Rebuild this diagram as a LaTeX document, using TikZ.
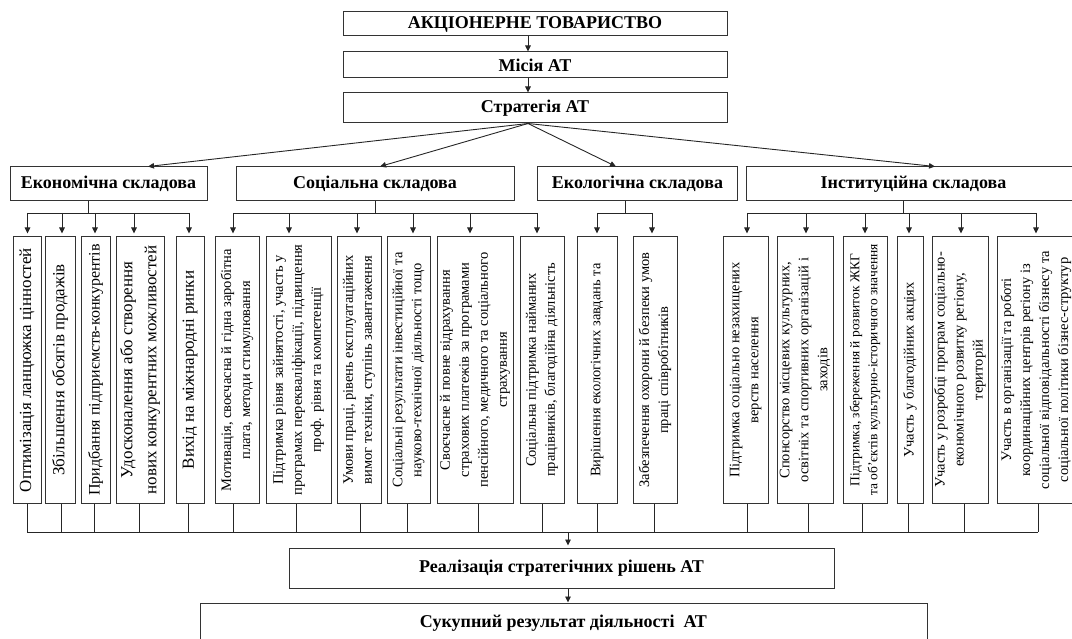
\documentclass[tikz,border=0pt]{standalone}
\usepackage{fontspec}
\setmainfont{Liberation Serif}
\usetikzlibrary{arrows.meta}
\begin{document}
\begin{tikzpicture}[x=1pt,y=-1pt,
  box/.style={draw=black!80, line width=1pt, inner sep=0pt, font=\fontsize{18}{20}\selectfont\bfseries},
  vbox/.style={draw=black!80, line width=1pt, inner sep=0pt, rotate=90, align=center, minimum width=266pt, font=\fontsize{14.5}{19}\selectfont},
  ebox/.style={vbox, font=\fontsize{17}{24}\selectfont},
  conn/.style={draw=black!85, line width=0.9pt},
  arr/.style={conn, -{Triangle[length=6pt,width=5.5pt]}},
]
\useasboundingbox (0,0) rectangle (1072,639);

% top chain
\node[box, minimum width=384pt, minimum height=24pt] (top) at (535,24) {АКЦІОНЕРНЕ ТОВАРИСТВО};
\node[box, minimum width=384pt, minimum height=26pt] (mis) at (535,65) {Місія АТ};
\node[box, minimum width=384pt, minimum height=30pt] (str) at (535,108) {Стратегія АТ};

% categories
\node[box, minimum width=197pt, minimum height=34pt] (econ) at (108.5,184) {Економічна складова};
\node[box, minimum width=278pt, minimum height=34pt] (soc) at (375,184) {Соціальна складова};
\node[box, minimum width=200pt, minimum height=34pt] (eco) at (637.5,184) {Екологічна складова};
\node[box, minimum width=335pt, minimum height=34pt] (inst) at (913.5,184) {Інституційна складова};

% economic boxes
\node[ebox, minimum height=28pt] (e1) at (27,370) {Оптимізація ланцюжка цінностей};
\node[ebox, minimum height=30pt] (e2) at (60,370) {Збільшення обсягів продажів};
\node[ebox, minimum height=29pt, font=\fontsize{16}{24}\selectfont] (e3) at (95.5,370) {Придбання підприємств-конкурентів};
\node[ebox, minimum height=48pt] (e4) at (140,370) {Удосконалення або створення\\нових конкурентних можливостей};
\node[ebox, minimum height=28pt] (e5) at (190,370) {Вихід на міжнародні ринки};

% social boxes
\node[vbox, minimum height=44pt] (s1) at (237,370) {Мотивація, своєчасна й гідна заробітна\\плата, методи стимулювання};
\node[vbox, minimum height=65pt] (s2) at (298.5,370) {Підтримка рівня зайнятості, участь у\\програмах перекваліфікації, підвищення\\проф. рівня та компетенції};
\node[vbox, minimum height=44pt] (s3) at (359,370) {Умови праці, рівень експлуатаційних\\вимог техніки, ступінь завантаження};
\node[vbox, minimum height=43pt] (s4) at (408.5,370) {Соціальні результати інвестиційної та\\науково-технічної діяльності тощо};
\node[vbox, minimum height=76pt] (s5) at (475,370) {Своєчасне й повне відрахування\\страхових платежів за програмами\\пенсійного, медичного та соціального\\страхування};
\node[vbox, minimum height=44pt] (s6) at (542,370) {Соціальна підтримка найманих\\працівників, благодійна діяльність};

% ecological boxes
\node[vbox, minimum height=40pt] (ec1) at (597,370) {Вирішення екологічних завдань та};
\node[vbox, minimum height=44pt] (ec2) at (655,370) {Забезпечення охорони й безпеки умов\\праці співробітників};

% institutional boxes
\node[vbox, minimum height=45pt] (i1) at (745.5,370) {Підтримка соціально незахищених\\верств населення};
\node[vbox, minimum height=56pt] (i2) at (805,370) {Спонсорство місцевих культурних,\\освітніх та спортивних організацій і\\заходів};
\node[vbox, minimum height=44pt, font=\fontsize{13.5}{18}\selectfont] (i3) at (865,370) {Підтримка, збереження й розвиток ЖКГ\\та об'єктів культурно-історичного значення};
\node[vbox, minimum height=26pt] (i4) at (910,370) {Участь у благодійних акціях};
\node[vbox, minimum height=56pt] (i5) at (960,370) {Участь у розробці програм соціально-\\економічного розвитку регіону,\\територій};
\node[vbox, minimum height=78pt] (i6) at (1036,370) {Участь в організації та роботі\\координаційних центрів регіону із\\соціальної відповідальності бізнесу та\\соціальної політики бізнес-структур};

% bottom boxes
\node[box, minimum width=545pt, minimum height=40pt] (real) at (561.5,568) {Реалізація стратегічних рішень АТ};
\node[box, minimum width=727pt, minimum height=40pt] (sum) at (563.5,623) {Сукупний результат діяльності\ \ АТ};

% top chain arrows
\draw[arr] (top.south -| 528,0) -- (mis.north -| 528,0);
\draw[arr] (mis.south -| 528,0) -- (str.north -| 528,0);
\coordinate (sb) at (str.south -| 528,0);
\draw[arr] (sb) -- (econ.north -| 148,0);
\draw[arr] (sb) -- (soc.north -| 380,0);
\draw[arr] (sb) -- (eco.north -| 616,0);
\draw[arr] (sb) -- (inst.north -| 935,0);

% distribution buses (rotated boxes: east = top edge, west = bottom edge)
\draw[conn] (econ.south -| 88,0) -- (88,213);
\draw[conn] (27.5,213) -- (189,213);
\foreach \n/\x in {e1/27.5,e2/62,e3/95,e4/134,e5/189}
  \draw[arr, shorten >=3pt] (\x,213) -- (\x,0 |- \n.east);

\draw[conn] (soc.south -| 375,0) -- (375,213);
\draw[conn] (233,213) -- (537,213);
\foreach \n/\x in {s1/233,s2/289,s3/357,s4/413,s5/470,s6/537}
  \draw[arr, shorten >=3pt] (\x,213) -- (\x,0 |- \n.east);

\draw[conn] (eco.south -| 625,0) -- (625,213);
\draw[conn] (597,213) -- (652,213);
\foreach \n/\x in {ec1/597,ec2/652}
  \draw[arr, shorten >=3pt] (\x,213) -- (\x,0 |- \n.east);

\draw[conn] (inst.south -| 903,0) -- (903,213);
\draw[conn] (747,213) -- (1036,213);
\foreach \n/\x in {i1/747,i2/806,i3/865,i4/909,i5/961,i6/1036}
  \draw[arr, shorten >=3pt] (\x,213) -- (\x,0 |- \n.east);

% collection bus
\foreach \n/\x in {e1/27,e2/61,e3/94,e4/139,e5/188,s1/233,s2/296,s3/360,s4/407,s5/478,s6/542,ec1/597,ec2/654,i1/747,i2/808,i3/862,i4/908,i5/964,i6/1038}
  \draw[conn] (\x,0 |- \n.west) -- (\x,532);
\draw[conn] (27,532) -- (1038,532);
\coordinate (cb) at (568,532);
\draw[arr, shorten >=2pt] (cb) -- (real.north -| 568,0);
\draw[arr] (real.south -| 568,0) -- (sum.north -| 568,0);
\end{tikzpicture}
\end{document}
